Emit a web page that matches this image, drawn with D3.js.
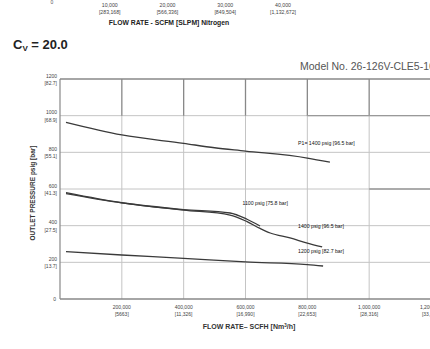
<!DOCTYPE html>
<html><head><meta charset="utf-8">
<script src="https://cdn.jsdelivr.net/npm/d3@7"></script>
<style>body{margin:0;background:#fff;}svg{display:block;font-family:"Liberation Sans",Arial,sans-serif;}</style>
</head><body>
<svg id="c" width="430" height="349"></svg>
<script>
// top (previous chart) axis remnant
const topTicks = ["10,000","20,000","30,000","40,000"];
const topTicksSub = ["[283,168]","[566,336]","[849,504]","[1,132,672]"];
const topTickVals = [10000,20000,30000,40000];

// main chart
const xTicks = [200000,400000,600000,800000,1000000,1200000];
const xTickLabels = ["200,000","400,000","600,000","800,000","1,000,000","1,200,000"];
const xTickSub = ["[5663]","[11,326]","[16,990]","[22,653]","[28,316]","[33,979]"];
const yTicks = [0,200,400,600,800,1000,1200];
const yTickSub = ["","[13.7]","[27.5]","[41.3]","[55.1]","[68.9]","[82.7]"];

const flowA = [19400,200000,400000,500000,600000,800000,873000];
const presA = [964,895,849,825,807,769,746];
const flowB = [19400,200000,400000,550000,605000,647000];
const presB = [580,525,488,469,435,398];
const flowC = [19400,200000,400000,550000,605000,647000,680000,744000,800000,848000];
const presC = [575,524,485,458,422,385,360,333,305,284];
const flowD = [19400,200000,400000,600000,800000,851000];
const presD = [258,240,222,202,188,180];

const labels = [
  {t:"P1= 1400 psig [96.5 bar]", f:770000, p:840},
  {t:"1100 psig [75.8 bar]", f:590000, p:512},
  {t:"1400 psig [96.5 bar]", f:770000, p:390},
  {t:"1200 psig [82.7 bar]", f:770000, p:252}
];

const svg = d3.select("#c");
const x = d3.scaleLinear().domain([0,1200000]).range([60,431]);
const y = d3.scaleLinear().domain([0,1200]).range([299,79]);

// top remnant axis
const xt = d3.scaleLinear().domain([0,40000]).range([52,283]);
svg.append("text").attr("x",52).attr("y",4).attr("font-size",5).attr("fill","#555").attr("text-anchor","middle").text("0");
topTickVals.forEach((v,i)=>{
  svg.append("text").attr("x",xt(v)).attr("y",7).attr("font-size",5.2).attr("fill","#444").attr("text-anchor","middle").text(topTicks[i]);
  svg.append("text").attr("x",xt(v)).attr("y",14).attr("font-size",5.2).attr("fill","#444").attr("text-anchor","middle").text(topTicksSub[i]);
});
svg.append("text").attr("x",169).attr("y",25).attr("font-size",6.8).attr("font-weight","bold").attr("fill","#222").attr("text-anchor","middle").text("FLOW RATE - SCFM [SLPM] Nitrogen");

// Cv
const cv = svg.append("text").attr("x",13).attr("y",49).attr("font-size",13).attr("font-weight","bold").attr("fill","#222");
cv.append("tspan").text("C");
cv.append("tspan").attr("font-size",8).attr("dy",2).text("V");
cv.append("tspan").attr("dy",-2).text(" = 20.0");

// model
svg.append("text").attr("x",300).attr("y",70).attr("font-size",10.5).attr("fill","#555").text("Model No. 26-126V-CLE5-16");

// grid
const g = svg.append("g");
yTicks.filter(v=>v>0).forEach(v=>{
  g.append("line").attr("x1",x(0)).attr("x2",431).attr("y1",y(v)).attr("y2",y(v))
   .attr("stroke",v===1200?"#888":"#c4c4c4").attr("stroke-width",v===1200?1.3:1);
});
xTicks.forEach(v=>{
  g.append("line").attr("x1",x(v)).attr("x2",x(v)).attr("y1",y(0)).attr("y2",y(1000))
   .attr("stroke","#c4c4c4").attr("stroke-width",1);
  g.append("line").attr("x1",x(v)).attr("x2",x(v)).attr("y1",y(1000)).attr("y2",y(1200))
   .attr("stroke","#888").attr("stroke-width",1.3);
});
// darker scan segments
g.append("line").attr("x1",x(800000)).attr("x2",431).attr("y1",y(1000)).attr("y2",y(1000)).attr("stroke","#999").attr("stroke-width",1.3);
g.append("line").attr("x1",x(1000000)).attr("x2",431).attr("y1",y(600)).attr("y2",y(600)).attr("stroke","#999").attr("stroke-width",1.3);

// axes
svg.append("line").attr("x1",x(0)).attr("x2",x(0)).attr("y1",y(0)).attr("y2",y(1200)).attr("stroke","#888").attr("stroke-width",1.2);
svg.append("line").attr("x1",x(0)).attr("x2",431).attr("y1",y(0)).attr("y2",y(0)).attr("stroke","#888").attr("stroke-width",1.3);

// y tick labels
yTicks.forEach((v,i)=>{
  if(v===0){
    svg.append("text").attr("x",56).attr("y",y(0)+2).attr("font-size",5).attr("fill","#444").attr("text-anchor","end").text("0");
  } else {
    svg.append("text").attr("x",57).attr("y",y(v)-1.5).attr("font-size",5).attr("fill","#444").attr("text-anchor","end").text(v);
    svg.append("text").attr("x",57).attr("y",y(v)+6).attr("font-size",5).attr("fill","#444").attr("text-anchor","end").text(yTickSub[i]);
  }
});
svg.append("text").attr("transform","translate(35,193) rotate(-90)").attr("font-size",6.5).attr("font-weight","bold").attr("fill","#333").attr("text-anchor","middle").text("OUTLET PRESSURE psig [bar]");

// x tick labels
xTicks.forEach((v,i)=>{
  svg.append("text").attr("x",x(v)).attr("y",309).attr("font-size",5).attr("fill","#444").attr("text-anchor","middle").text(xTickLabels[i]);
  svg.append("text").attr("x",x(v)).attr("y",316).attr("font-size",5).attr("fill","#444").attr("text-anchor","middle").text(xTickSub[i]);
});
const xt2 = svg.append("text").attr("x",249).attr("y",329).attr("font-size",7).attr("font-weight","bold").attr("fill","#333").attr("text-anchor","middle");
xt2.append("tspan").text("FLOW RATE– SCFH [Nm");
xt2.append("tspan").attr("font-size",4.5).attr("dy",-2).text("3");
xt2.append("tspan").attr("dy",2).text("/h]");

// curves
const line = d3.line().x(d=>x(d[0])).y(d=>y(d[1])).curve(d3.curveMonotoneX);
[[flowA,presA],[flowB,presB],[flowC,presC],[flowD,presD]].forEach(([f,p])=>{
  svg.append("path").attr("d",line(f.map((v,i)=>[v,p[i]]))).attr("fill","none").attr("stroke","#3a3a3a").attr("stroke-width",1.3);
});
labels.forEach(l=>{
  svg.append("text").attr("x",x(l.f)).attr("y",y(l.p)).attr("font-size",5.2).attr("fill","#111").text(l.t);
});
</script>
</body></html>
